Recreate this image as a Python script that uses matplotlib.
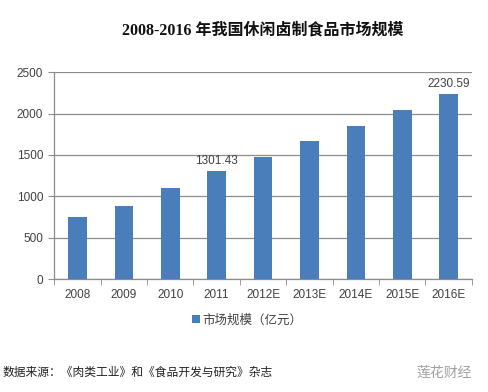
import matplotlib
matplotlib.use('Agg')
import matplotlib.pyplot as plt
import numpy as np

plt.rcParams['font.family'] = ['Liberation Sans', 'Noto Sans CJK SC']

years = ['2008', '2009', '2010', '2011', '2012E', '2013E', '2014E', '2015E', '2016E']
market_size = [745, 888, 1100, 1301.43, 1478, 1672, 1853, 2047, 2230.59]
labeled = {3: '1301.43', 8: '2230.59'}
yticks = [0, 500, 1000, 1500, 2000, 2500]

bar_color = '#4A7EBB'
grid_color = '#8C8C8C'
text_color = '#404040'

fig = plt.figure(figsize=(4.89, 3.92), dpi=100)
ax = fig.add_axes([0.111, 0.288, 0.854, 0.528])

x = np.arange(len(years))
bars = ax.bar(x, market_size, width=0.4, color=bar_color, zorder=3,
              label='市场规模（亿元）')

for i, txt in labeled.items():
    ax.text(x[i], market_size[i] + 55, txt, ha='center', va='bottom',
            fontsize=8.5, color=text_color)

ax.set_xlim(-0.5, len(years) - 0.5)
ax.set_ylim(0, 2500)
ax.set_yticks(yticks)
ax.set_yticklabels([str(v) for v in yticks], fontsize=8.5, color=text_color)
ax.yaxis.grid(True, color=grid_color, linewidth=0.9, zorder=0)

ax.set_xticks(x)
ax.set_xticklabels(years, fontsize=8.5, color=text_color)
ax.tick_params(axis='x', length=0, pad=7)
ax.set_xticks(np.arange(-0.5, len(years)), minor=True)
ax.tick_params(axis='x', which='minor', length=4, color=grid_color)
ax.tick_params(axis='y', length=4, color=grid_color, pad=4)

for s in ['top', 'right']:
    ax.spines[s].set_visible(False)
for s in ['left', 'bottom']:
    ax.spines[s].set_color(grid_color)
    ax.spines[s].set_linewidth(0.9)

ax.legend(loc='upper center', bbox_to_anchor=(0.462, -0.115), frameon=False,
          fontsize=9, handlelength=0.6, handleheight=0.6, handletextpad=0.2,
          labelcolor=text_color)

fig.text(0.537, 0.923, '2008-2016 年我国休闲卤制食品市场规模', ha='center', va='center',
         fontsize=11.5, fontweight='bold', color='#111111',
         family=['Liberation Serif', 'Noto Sans CJK SC'])

fig.text(0.006, 0.05, '数据来源：《肉类工业》和《食品开发与研究》杂志', ha='left', va='center',
         fontsize=8.5, color='#222222', family=['Noto Sans CJK SC'])
fig.text(0.965, 0.05, '莲花财经', ha='right', va='center',
         fontsize=10, color='#A0A0A0', family=['Noto Sans CJK SC'])

fig.savefig('out.png', dpi=100)
